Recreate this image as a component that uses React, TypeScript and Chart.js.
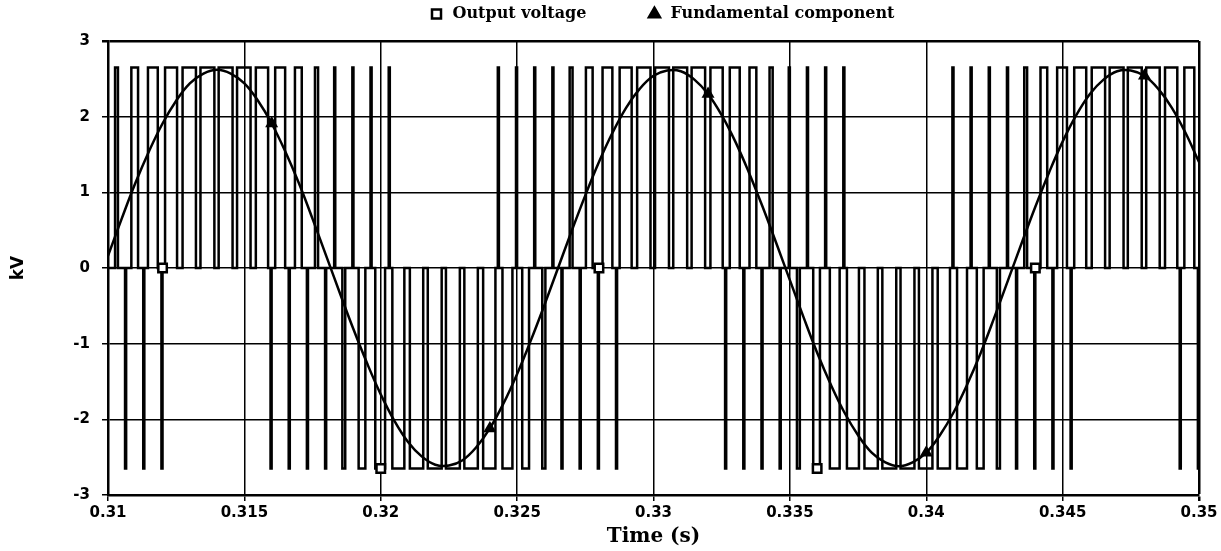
import { useEffect, useRef } from "react";
import { Chart, registerables } from "chart.js";

Chart.register(...registerables);

// ---------- data ----------
const seriesLabels = ["Output voltage", "Fundamental component"];
const xAxisTitle = "Time (s)";
const yAxisTitle = "kV";

const timeTicksS = [0.31, 0.315, 0.32, 0.325, 0.33, 0.335, 0.34, 0.345, 0.35];
const kvTicks = [-3, -2, -1, 0, 1, 2, 3];

const pulseHighKv = 2.65;
const pulseLowKv = -2.65;

// positive pulses of the output voltage: centre (ms) and width (µs)
const positivePulseCentersMs = [
  310.312, 310.979, 311.645, 312.312, 312.979, 313.645, 314.312, 314.979, 315.645, 316.312,
  316.979, 317.645, 318.312, 318.979, 319.645, 320.312, 324.312, 324.979, 325.645, 326.312,
  326.979, 327.645, 328.312, 328.979, 329.645, 330.312, 330.979, 331.645, 332.312, 332.979,
  333.645, 334.312, 334.979, 335.645, 336.312, 336.979, 340.979, 341.645, 342.312, 342.979,
  343.645, 344.312, 344.979, 345.645, 346.312, 346.979, 347.645, 348.312, 348.979, 349.645,
];
const positivePulseWidthsUs = [
  106, 246, 360, 440, 490, 510, 510, 495, 450, 365,
  250, 114, 40, 40, 40, 40, 40, 40, 40, 40,
  106, 246, 360, 440, 490, 510, 510, 495, 450, 365,
  250, 114, 40, 40, 40, 40, 40, 40, 40, 40,
  106, 246, 360, 440, 490, 510, 510, 495, 450, 365,
];

// negative pulses of the output voltage: centre (ms) and width (µs)
const negativePulseCentersMs = [
  310.645, 311.312, 311.979, 315.979, 316.645, 317.312, 317.979, 318.645, 319.312, 319.979,
  320.645, 321.312, 321.979, 322.645, 323.312, 323.979, 324.645, 325.312, 325.979, 326.645,
  327.312, 327.979, 328.645, 332.645, 333.312, 333.979, 334.645, 335.312, 335.979, 336.645,
  337.312, 337.979, 338.645, 339.312, 339.979, 340.645, 341.312, 341.979, 342.645, 343.312,
  343.979, 344.645, 345.312, 349.312, 349.979,
];
const negativePulseWidthsUs = [
  40, 40, 40, 40, 40, 40, 40, 106, 246, 360,
  440, 490, 510, 510, 495, 450, 365, 250, 114, 40,
  40, 40, 40, 40, 40, 40, 40, 106, 246, 360,
  440, 490, 510, 510, 495, 450, 365, 250, 114, 40,
  40, 40, 40, 40, 40,
];

const outputMarkerTimesS = [0.312, 0.32, 0.328, 0.336, 0.344];
const outputMarkerKv = [0, -2.65, 0, -2.65, 0];

// fundamental component, sampled every 0.5 ms from 0.310 s
const fundamentalStartS = 0.31;
const fundamentalStepS = 0.0005;
const fundamentalKv = [
  0.16, 0.65, 1.12, 1.54, 1.91, 2.21, 2.44, 2.57, 2.62, 2.57,
  2.44, 2.21, 1.91, 1.54, 1.12, 0.65, 0.16, -0.33, -0.81, -1.26,
  -1.67, -2.02, -2.3, -2.49, -2.6, -2.61, -2.54, -2.37, -2.12, -1.79,
  -1.4, -0.96, -0.49, 0.0, 0.49, 0.96, 1.4, 1.79, 2.12, 2.37,
  2.54, 2.61, 2.6, 2.49, 2.3, 2.02, 1.67, 1.26, 0.81, 0.33,
  -0.16, -0.65, -1.12, -1.54, -1.91, -2.21, -2.44, -2.57, -2.62, -2.57,
  -2.44, -2.21, -1.91, -1.54, -1.12, -0.65, -0.16, 0.33, 0.81, 1.26,
  1.67, 2.02, 2.3, 2.49, 2.6, 2.61, 2.54, 2.37, 2.12, 1.79,
  1.4,
];
const fundamentalMarkerTimesS = [0.316, 0.324, 0.332, 0.34, 0.348];

// ---------- layout constants ----------
const PLOT_TOP = 41;
const X_AXIS_HEIGHT = 56;
const Y_AXIS_WIDTH = 108;
const RIGHT_PAD = 22;
const LEGEND_CENTER_Y = 14;
const LEGEND_PADDING = 60;
const LEGEND_FONT = 16;
const LEGEND_SHIFT = 62;

type Pt = { x: number; y: number; m?: boolean };

export default function App() {
  const ref = useRef<HTMLCanvasElement | null>(null);

  useEffect(() => {
    document.body.style.margin = "0";
    const canvas = ref.current;
    if (!canvas) return;

    const pulses: { s: number; e: number; v: number }[] = [];
    positivePulseCentersMs.forEach((c, i) => {
      const hw = positivePulseWidthsUs[i] / 2000;
      pulses.push({ s: (c - hw) / 1000, e: (c + hw) / 1000, v: pulseHighKv });
    });
    negativePulseCentersMs.forEach((c, i) => {
      const hw = negativePulseWidthsUs[i] / 2000;
      pulses.push({ s: (c - hw) / 1000, e: (c + hw) / 1000, v: pulseLowKv });
    });
    pulses.sort((a, b) => a.s - b.s);

    const outputPts: Pt[] = [{ x: timeTicksS[0], y: 0 }];
    pulses.forEach((p) => {
      outputPts.push({ x: p.s, y: p.v });
      outputPts.push({ x: p.e, y: 0 });
    });
    outputPts.push({ x: timeTicksS[timeTicksS.length - 1], y: 0 });
    outputMarkerTimesS.forEach((t, i) => outputPts.push({ x: t, y: outputMarkerKv[i], m: true }));
    outputPts.sort((a, b) => a.x - b.x);

    const fundamentalPts: Pt[] = fundamentalKv.map((v, i) => {
      const x = +(fundamentalStartS + i * fundamentalStepS).toFixed(4);
      return { x, y: v, m: fundamentalMarkerTimesS.some((t) => Math.abs(t - x) < 1e-6) };
    });

    const legendPlacement = {
      id: "legendPlacement",
      beforeInit(chart: any) {
        const l = chart.legend;
        if (!l) return;
        const fit = l.fit;
        l.fit = function () {
          fit.call(this);
          this.height = PLOT_TOP;
        };
      },
      afterLayout(chart: any) {
        const l = chart.legend;
        if (!l) return;
        l.top = LEGEND_CENTER_Y - LEGEND_FONT / 2 - LEGEND_PADDING;
        l.bottom = PLOT_TOP;
        l.left += LEGEND_SHIFT;
        l.right += LEGEND_SHIFT;
      },
    };

    const tickFont = { family: "'DejaVu Sans', sans-serif", weight: "bold" as const, size: 15 };

    const chart = new Chart(canvas, {
      type: "line",
      data: {
        datasets: [
          {
            label: seriesLabels[0],
            data: outputPts as any,
            stepped: true,
            borderColor: "#000",
            backgroundColor: "#fff",
            borderWidth: 2.5,
            pointStyle: "rect",
            pointRadius: (c: any) => (c.raw && c.raw.m ? 6 : 0),
            pointBorderWidth: 2.5,
            pointBorderColor: "#000",
            pointBackgroundColor: "#fff",
            pointHoverRadius: 0,
          },
          {
            label: seriesLabels[1],
            data: fundamentalPts as any,
            tension: 0.4,
            borderColor: "#000",
            backgroundColor: "#000",
            borderWidth: 2.5,
            pointStyle: "triangle",
            pointRadius: (c: any) => (c.raw && c.raw.m ? 5 : 0),
            pointBorderColor: "#000",
            pointBackgroundColor: "#000",
            pointHoverRadius: 0,
          },
        ],
      },
      options: {
        animation: false,
        responsive: true,
        maintainAspectRatio: false,
        events: [],
        layout: { padding: { left: 0, right: RIGHT_PAD, top: 0, bottom: 0 } },
        plugins: {
          tooltip: { enabled: false },
          legend: {
            display: true,
            position: "top",
            align: "center",
            labels: {
              usePointStyle: true,
              boxHeight: 9,
              color: "#000",
              padding: LEGEND_PADDING,
              font: { family: "'DejaVu Serif', serif", weight: "bold", size: LEGEND_FONT },
            },
          },
        },
        scales: {
          x: {
            type: "linear",
            min: timeTicksS[0],
            max: timeTicksS[timeTicksS.length - 1],
            afterBuildTicks(scale: any) {
              scale.ticks = timeTicksS.map((v) => ({ value: v }));
            },
            afterFit(scale: any) {
              scale.height = X_AXIS_HEIGHT;
            },
            ticks: {
              color: "#000",
              font: tickFont,
              padding: 3,
              maxRotation: 0,
              autoSkip: false,
              callback: (v: any) => String(+Number(v).toFixed(3)),
            },
            grid: {
              color: "#000",
              lineWidth: (c: any) => (c.tick && c.tick.value > 0.3499 ? 2.5 : 1.5),
              tickLength: 6,
            },
            border: { color: "#000", width: 2.5 },
            title: {
              display: true,
              text: xAxisTitle,
              color: "#000",
              font: { family: "'DejaVu Serif', serif", weight: "bold", size: 20 },
              padding: { top: 0, bottom: 2 },
            },
          },
          y: {
            type: "linear",
            min: kvTicks[0],
            max: kvTicks[kvTicks.length - 1],
            afterBuildTicks(scale: any) {
              scale.ticks = kvTicks.map((v) => ({ value: v }));
            },
            afterFit(scale: any) {
              scale.width = Y_AXIS_WIDTH;
            },
            ticks: {
              color: "#000",
              font: tickFont,
              padding: 12,
              callback: (v: any) => String(v),
            },
            grid: {
              color: "#000",
              lineWidth: (c: any) => (c.tick && c.tick.value === 3 ? 2.5 : 1.5),
              tickLength: 6,
            },
            border: { color: "#000", width: 2.5 },
            title: {
              display: true,
              text: yAxisTitle,
              color: "#000",
              font: { family: "'DejaVu Sans', sans-serif", weight: "bold", size: 17 },
              padding: { top: 8, bottom: 0 },
            },
          },
        },
      },
      plugins: [legendPlacement],
    });

    return () => chart.destroy();
  }, []);

  return (
    <div style={{ position: "absolute", left: 0, top: 0, width: 1221, height: 551, background: "#fff" }}>
      <canvas ref={ref} />
    </div>
  );
}
